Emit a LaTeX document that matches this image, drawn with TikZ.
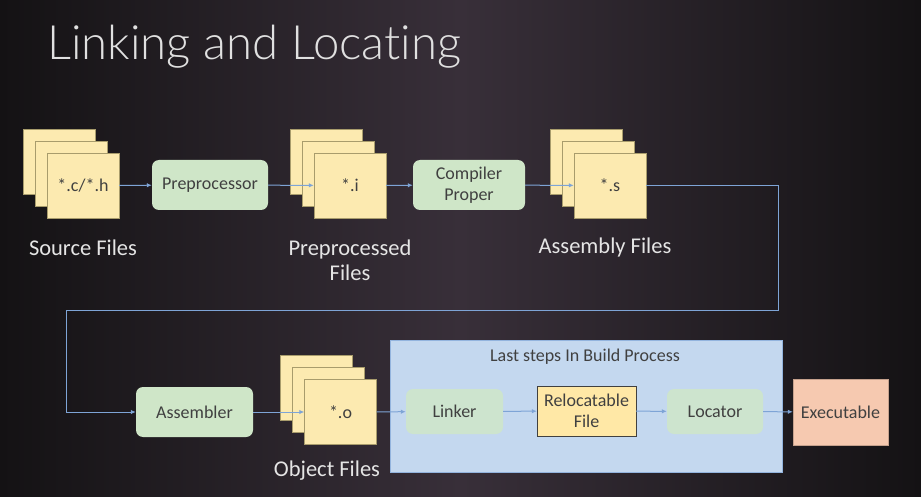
\documentclass[tikz,border=0pt]{standalone}
\usepackage{fontspec}
\setmainfont{Carlito}
\newfontfamily\titlefont{Lato Light}[Ligatures=NoCommon]
\usetikzlibrary{arrows.meta,positioning}

\definecolor{bgedge}{HTML}{141214}
\definecolor{bgmid}{HTML}{382F39}
\definecolor{sheetfill}{HTML}{FCEAB0}
\definecolor{sheetline}{HTML}{A89C6C}
\definecolor{stepfill}{HTML}{CFE6C8}
\definecolor{lastfill}{HTML}{C4D8EF}
\definecolor{relocfill}{HTML}{FFE8A6}
\definecolor{exefill}{HTML}{F6C9B0}
\definecolor{flowcol}{HTML}{7EA4D6}
\definecolor{inktext}{HTML}{404040}

\tikzset{
  sheet/.style={draw=sheetline,fill=sheetfill,minimum width=72pt,minimum height=65pt,
    inner sep=0pt,font=\fontsize{18}{20}\selectfont,text=inktext},
  stepbox/.style={fill=stepfill,rounded corners=7pt,minimum width=#1,minimum height=50pt,
    inner sep=0pt,align=center,font=\fontsize{18}{21}\selectfont,text=inktext},
  stepbox/.default=116pt,
  caption/.style={text=white!90!black,align=center,font=\fontsize{22.5}{25}\selectfont},
  flow/.style={draw=flowcol,line width=1pt,-{Latex[length=5pt,width=4.5pt]}}
}

\begin{document}
\begin{tikzpicture}[x=1pt,y=-1pt]

  % background
  \useasboundingbox (0,0) rectangle (921,497);
  \shade[left color=bgedge,right color=bgedge,middle color=bgmid] (0,0) rectangle (921,497);

  % title
  \node[anchor=base west,inner sep=0pt,text=white!88!black,font=\titlefont\fontsize{47.3}{50}\selectfont]
    (title) at (47,60) {Linking and Locating};

  % stacks of files
  \foreach \nm/\cx/\cy/\txt in {src/83/185.5/{*.c/*.h}, pre/350/185.5/{*.i},
      asm/610/185.5/{*.s}, obj/340.5/412/{*.o}} {
    \node[sheet] (\nm-b2) at (\cx-24,\cy-24) {};
    \node[sheet] (\nm-b1) at (\cx-12,\cy-12) {};
    \node[sheet] (\nm) at (\cx,\cy) {\txt};
  }
  \node[caption] (srccap) at (83,248) {Source Files};
  \node[caption] (precap) at (350,260) {Preprocessed\\Files};
  \node[caption] (asmcap) at (605,248) {Assembly Files};

  % tools, top row
  \node[stepbox] (prep) at (210,185) {Preprocessor};
  \node[stepbox=112pt] (comp) at (469,185) {Compiler\\Proper};

  % last steps region
  \node[draw=flowcol!70!lastfill,fill=lastfill,minimum width=392pt,minimum height=132pt]
    (last) at (586,406) {};
  \node[text=inktext,font=\fontsize{18}{20}\selectfont] (lastcap) at (585,357) {Last steps In Build Process};
  \node[caption] (objcap) at (327,471) {Object Files};

  % tools, bottom row
  \node[stepbox=117pt] (asmb) at (194.5,412) {Assembler};
  \node[stepbox=97pt,minimum height=45pt,fill=stepfill!85!lastfill] (link) at (454.5,411.5) {Linker};
  \node[draw=inktext,fill=relocfill,minimum width=99pt,minimum height=50pt,inner sep=0pt,
    align=center,text=inktext,font=\fontsize{18}{21}\selectfont] (reloc) at (586.5,411) {Relocatable\\File};
  \node[stepbox=96pt,minimum height=45pt,fill=stepfill!85!lastfill] (loc) at (715,411.5) {Locator};
  \node[draw=exefill!80!black,fill=exefill,minimum width=95pt,minimum height=66pt,inner sep=0pt,
    text=inktext,font=\fontsize{18}{21}\selectfont] (exec) at (840.5,412) {Executable};

  % connectors
  \coordinate (turnR) at (778,310);
  \coordinate (turnL) at (66,310);
  \draw[flow] (src) -- (prep);
  \draw[flow] (prep) -- (pre);
  \draw[flow] (pre) -- (comp);
  \draw[flow] (comp) -- (asm);
  \draw[flow] (asm.east) -| (turnR) -- (turnL) |- (asmb.west);
  \draw[flow] (asmb) -- (obj);
  \draw[flow] (obj) -- (link);
  \draw[flow] (link) -- (reloc);
  \draw[flow] (reloc) -- (loc);
  \draw[flow] (loc) -- (exec);

\end{tikzpicture}
\end{document}
